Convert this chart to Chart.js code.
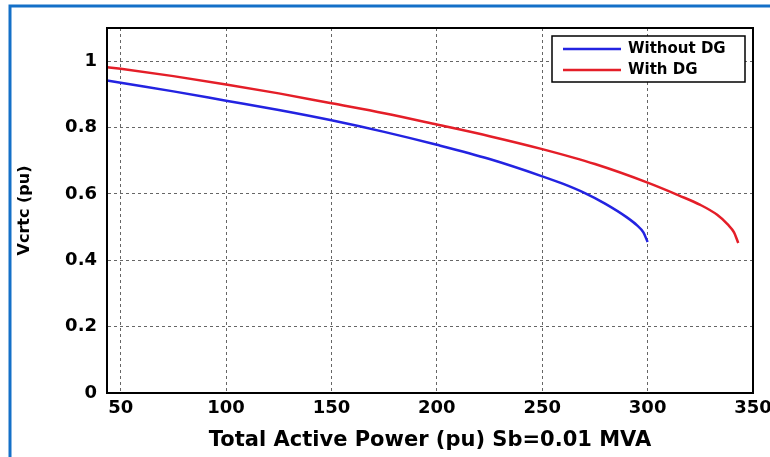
<!DOCTYPE html>
<html><head><meta charset="utf-8">
<script src="https://cdn.jsdelivr.net/npm/chart.js@4/dist/chart.umd.min.js"></script>
<style>html,body{margin:0;padding:0;background:#fff}#wrap{width:770px;height:457px}</style>
</head><body><div id="wrap"><canvas id="c" width="770" height="457"></canvas></div>
<script>
// ---- data ----
const seriesLabels = ['Without DG', 'With DG'];
const withoutDG_P = [43.5, 50, 75, 100, 125, 150, 175, 200, 225, 250, 260, 270, 280, 290, 295, 298, 300];
const withoutDG_V = [0.942, 0.935, 0.909, 0.881, 0.853, 0.822, 0.787, 0.748, 0.705, 0.653, 0.630, 0.603, 0.570, 0.530, 0.505, 0.484, 0.455];
const withDG_P = [43.5, 50, 75, 100, 125, 150, 175, 200, 225, 250, 275, 300, 315, 325, 333, 338, 341, 343];
const withDG_V = [0.982, 0.977, 0.955, 0.930, 0.903, 0.873, 0.843, 0.809, 0.774, 0.735, 0.690, 0.634, 0.595, 0.567, 0.537, 0.508, 0.484, 0.452];
const xTicks = [50, 100, 150, 200, 250, 300, 350];
const yTicks = [0, 0.2, 0.4, 0.6, 0.8, 1];
const xTitle = 'Total Active Power (pu) Sb=0.01 MVA';
const yTitle = 'Vcrtc (pu)';
const seriesColors = ['rgb(35,35,225)', 'rgb(228,30,40)'];

const toPts = (xs, ys) => xs.map((x, i) => ({x: x, y: ys[i]}));

Chart.defaults.font.family = "'DejaVu Sans', sans-serif";
Chart.defaults.font.weight = 'bold';
Chart.defaults.color = '#000';

const framePlugin = {
  id: 'frame',
  beforeDraw(chart) {
    const ctx = chart.ctx;
    ctx.save();
    ctx.fillStyle = '#fff';
    ctx.fillRect(0, 0, chart.width, chart.height);
    ctx.strokeStyle = 'rgb(20,112,200)';
    ctx.lineWidth = 3;
    ctx.beginPath();
    ctx.moveTo(10, chart.height + 5);
    ctx.lineTo(10, 6);
    ctx.lineTo(chart.width + 5, 6);
    ctx.stroke();
    ctx.restore();
  },
  afterDraw(chart) {
    const ctx = chart.ctx, a = chart.chartArea;
    ctx.save();
    ctx.strokeStyle = '#000';
    ctx.lineWidth = 2;
    ctx.strokeRect(a.left, a.top, a.right - a.left, a.bottom - a.top);
    // legend box
    const bx = 552, by = 36, bw = 193, bh = 46;
    ctx.fillStyle = '#fff';
    ctx.fillRect(bx, by, bw, bh);
    ctx.lineWidth = 1.5;
    ctx.strokeStyle = '#000';
    ctx.strokeRect(bx, by, bw, bh);
    ctx.font = "bold 15px 'DejaVu Sans'";
    ctx.textBaseline = 'middle';
    chart.data.datasets.forEach((ds, i) => {
      const y = by + 13 + i * 21;
      ctx.strokeStyle = ds.borderColor;
      ctx.lineWidth = 2.5;
      ctx.beginPath();
      ctx.moveTo(563, y);
      ctx.lineTo(621, y);
      ctx.stroke();
      ctx.fillStyle = '#000';
      ctx.fillText(ds.label, 628, y);
    });
    ctx.restore();
  }
};

new Chart(document.getElementById('c'), {
  type: 'line',
  data: {
    datasets: [
      {label: seriesLabels[0], data: toPts(withoutDG_P, withoutDG_V), borderColor: seriesColors[0], borderWidth: 2.5, pointRadius: 0, cubicInterpolationMode: 'monotone', fill: false},
      {label: seriesLabels[1], data: toPts(withDG_P, withDG_V), borderColor: seriesColors[1], borderWidth: 2.5, pointRadius: 0, cubicInterpolationMode: 'monotone', fill: false}
    ]
  },
  options: {
    responsive: false,
    devicePixelRatio: 1,
    animation: false,
    layout: {padding: {left: 0, top: 28, right: 17, bottom: 0}},
    plugins: {legend: {display: false}, tooltip: {enabled: false}},
    scales: {
      x: {
        type: 'linear', min: 43.5, max: 350,
        afterBuildTicks: s => { s.ticks = xTicks.map(v => ({value: v})); },
        afterFit: s => { s.height = 64; s.paddingLeft = 0; s.paddingRight = 0; },
        ticks: {font: {size: 18, weight: 'bold'}, color: '#000', padding: 5, maxRotation: 0, autoSkip: false, callback: v => String(v)},
        grid: {color: '#666', lineWidth: 1, drawTicks: false},
        border: {color: '#000', width: 2, dash: [3, 3]},
        title: {display: true, text: xTitle, font: {size: 21, weight: 'bold'}, color: '#000', padding: {top: 0, bottom: 4}}
      },
      y: {
        type: 'linear', min: 0, max: 1.1,
        afterBuildTicks: s => { s.ticks = yTicks.map(v => ({value: v})); },
        afterFit: s => { s.width = 107; },
        ticks: {font: {size: 18, weight: 'bold'}, color: '#000', padding: 10, autoSkip: false, callback: v => String(Math.round(v * 10) / 10)},
        grid: {color: '#666', lineWidth: 1, drawTicks: false},
        border: {color: '#000', width: 2, dash: [3, 3]},
        title: {display: true, text: yTitle, font: {size: 16, weight: 'bold'}, color: '#000', padding: {top: 15, bottom: 0}}
      }
    }
  },
  plugins: [framePlugin]
});
</script>
</body></html>
